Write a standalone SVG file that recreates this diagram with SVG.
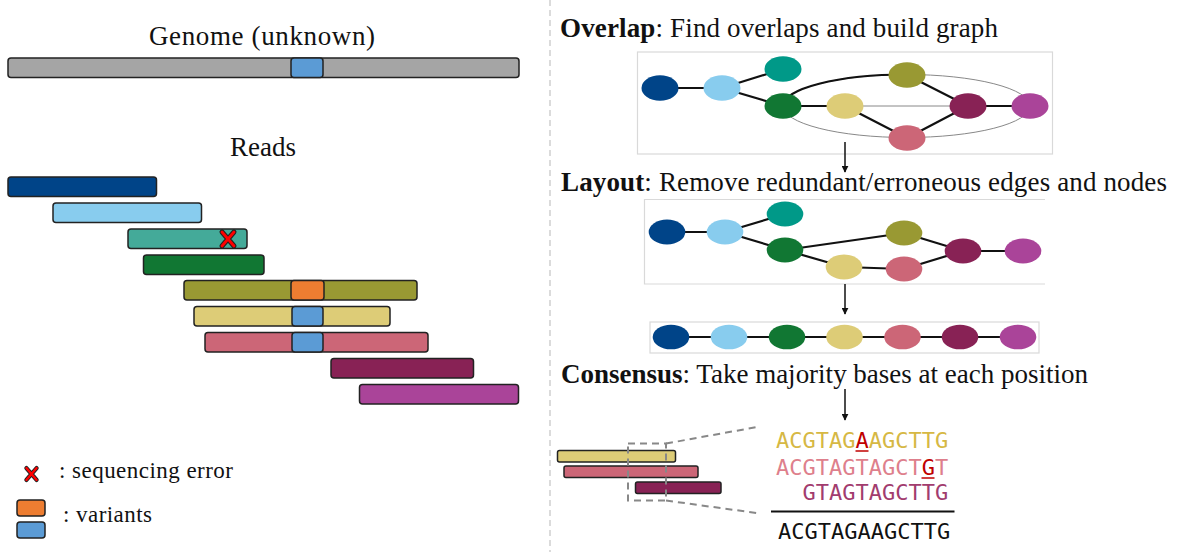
<svg xmlns="http://www.w3.org/2000/svg" width="1179" height="552" viewBox="0 0 1179 552">
<style>
.t{font-family:"Liberation Serif","Times New Roman",serif;fill:#111}
.big{font-size:27px}
.leg{font-size:23px}
.bar{stroke:#222;stroke-width:1.5}
.mono{font-family:"DejaVu Sans Mono","Liberation Mono",monospace;font-size:22px}
.e{stroke:#111;stroke-width:2.2;fill:none}
.thin{stroke:#888;stroke-width:1;fill:none}
.box{fill:none;stroke:#d9d9d9;stroke-width:1.2}
.dash{fill:none;stroke:#888;stroke-width:2;stroke-dasharray:7 5}
.arr{stroke:#111;stroke-width:1.5;fill:none}
</style>
<defs>
<marker id="ah" viewBox="0 0 10 10" refX="9" refY="5" markerWidth="7" markerHeight="7" markerUnits="userSpaceOnUse" orient="auto">
<path d="M0,0 L10,5 L0,10 z" fill="#111"/>
</marker>
<g id="xmark">
<path d="M-6,-7 L6,7 M6,-7 L-6,7" stroke="#222" stroke-width="5" stroke-linecap="round"/>
<path d="M-6,-7 L6,7 M6,-7 L-6,7" stroke="#ff0000" stroke-width="2.8" stroke-linecap="round"/>
</g>
</defs>
<rect width="1179" height="552" fill="#fff"/>

<line x1="550" y1="0" x2="550" y2="552" stroke="#cfcfcf" stroke-width="1.5" stroke-dasharray="6 4"/>

<g id="genome">
<text class="t big" x="262" y="45" text-anchor="middle" textLength="226" lengthAdjust="spacing">Genome (unknown)</text>
<rect class="bar" x="8" y="58" width="511" height="19.5" rx="3" fill="#a5a5a5"/>
<rect class="bar" x="291" y="58" width="32" height="19.5" rx="3" fill="#5b9bd5"/>
</g>

<g id="reads">
<text class="t big" x="263" y="156" text-anchor="middle" textLength="66" lengthAdjust="spacing">Reads</text>
<rect class="bar" x="8" y="177" width="148.5" height="19.5" rx="3" fill="#004488"/>
<rect class="bar" x="53" y="203" width="148.5" height="19.5" rx="3" fill="#88ccee"/>
<rect class="bar" x="128" y="229" width="119" height="19.5" rx="3" fill="#44aa99"/>
<use href="#xmark" x="228" y="239"/>
<rect class="bar" x="143.5" y="255" width="120.5" height="19.5" rx="3" fill="#117733"/>
<rect class="bar" x="184" y="280.5" width="233" height="19.5" rx="3" fill="#999933"/>
<rect class="bar" x="291" y="280.5" width="33" height="19.5" rx="3" fill="#ed7d31"/>
<rect class="bar" x="194" y="306.5" width="196" height="19.5" rx="3" fill="#ddcc77"/>
<rect class="bar" x="292" y="306.5" width="31" height="19.5" rx="3" fill="#5b9bd5"/>
<rect class="bar" x="205" y="332.5" width="223" height="19.5" rx="3" fill="#cc6677"/>
<rect class="bar" x="292" y="332.5" width="31" height="19.5" rx="3" fill="#5b9bd5"/>
<rect class="bar" x="331" y="358.5" width="142.5" height="19.5" rx="3" fill="#882255"/>
<rect class="bar" x="359.5" y="384.5" width="159" height="19.5" rx="3" fill="#aa4499"/>
</g>

<g id="legend">
<use href="#xmark" transform="translate(31.5 474) scale(0.85)"/>
<text class="t leg" x="59" y="478" textLength="174" lengthAdjust="spacing">: sequencing error</text>
<rect class="bar" x="17" y="500" width="28" height="16" rx="3" fill="#ed7d31"/>
<rect class="bar" x="17" y="522" width="28" height="16" rx="3" fill="#5b9bd5"/>
<text class="t leg" x="63" y="522" textLength="89" lengthAdjust="spacing">: variants</text>
</g>

<g id="overlap">
<text class="t big" x="560" y="37" textLength="438" lengthAdjust="spacing"><tspan font-weight="bold">Overlap</tspan>: Find overlaps and build graph</text>
<rect class="box" x="637.5" y="52" width="415" height="102"/>
<g id="overlap-edges">
<ellipse class="thin" cx="906.5" cy="106" rx="123.5" ry="31.5"/>
<line class="thin" x1="845" y1="106" x2="968" y2="106"/>
<path class="e" d="M783,106 A123.5,31.5 0 0 1 906.5,74.5"/>
<path class="e" d="M660,88 L722,88 M722,88 L783,69 M722,88 L783,106 M783,106 L845,106 M845,106 L907,138 M907,75 L968,106 M907,138 L968,106 M968,106 L1030,106"/>
</g>
<g id="overlap-nodes">
<ellipse cx="660" cy="88" rx="18.5" ry="12.7" fill="#004488"/>
<ellipse cx="722" cy="88" rx="18.5" ry="12.7" fill="#88ccee"/>
<ellipse cx="783" cy="69" rx="18.5" ry="12.7" fill="#009988"/>
<ellipse cx="783" cy="106" rx="18.5" ry="12.7" fill="#117733"/>
<ellipse cx="845" cy="106" rx="18.5" ry="12.7" fill="#ddcc77"/>
<ellipse cx="907" cy="75" rx="18.5" ry="12.7" fill="#999933"/>
<ellipse cx="907" cy="138" rx="18.5" ry="12.7" fill="#cc6677"/>
<ellipse cx="968" cy="106" rx="18.5" ry="12.7" fill="#882255"/>
<ellipse cx="1030" cy="106" rx="18.5" ry="12.7" fill="#aa4499"/>
</g>
</g>

<g id="layout">
<text class="t big" x="561" y="191" textLength="606" lengthAdjust="spacing"><tspan font-weight="bold">Layout</tspan>: Remove redundant/erroneous edges and nodes</text>
<path class="box" d="M1045,199.5 L644.5,199.5 L644.5,284 L1045,284"/>
<g id="layout-edges">
<path class="e" d="M667,232 L725,232 M725,232 L785,214 M725,232 L785,250 M785,250 L904,233 M785,250 L844,267 M844,267 L904,269 M904,233 L963,251 M904,269 L963,251 M963,251 L1023,251"/>
</g>
<g id="layout-nodes">
<ellipse cx="667" cy="232" rx="18.3" ry="12.5" fill="#004488"/>
<ellipse cx="725" cy="232" rx="18.3" ry="12.5" fill="#88ccee"/>
<ellipse cx="785" cy="214" rx="18.3" ry="12.5" fill="#009988"/>
<ellipse cx="785" cy="250" rx="18.3" ry="12.5" fill="#117733"/>
<ellipse cx="844" cy="267" rx="18.3" ry="12.5" fill="#ddcc77"/>
<ellipse cx="904" cy="233" rx="18.3" ry="12.5" fill="#999933"/>
<ellipse cx="904" cy="269" rx="18.3" ry="12.5" fill="#cc6677"/>
<ellipse cx="963" cy="251" rx="18.3" ry="12.5" fill="#882255"/>
<ellipse cx="1023" cy="251" rx="18.3" ry="12.5" fill="#aa4499"/>
</g>
</g>

<g id="linear">
<rect class="box" x="650" y="322" width="389" height="31"/>
<line class="e" x1="671" y1="337" x2="1018" y2="337"/>
<ellipse cx="671" cy="337" rx="18.3" ry="12.3" fill="#004488"/>
<ellipse cx="729" cy="337" rx="18.3" ry="12.3" fill="#88ccee"/>
<ellipse cx="787" cy="337" rx="18.3" ry="12.3" fill="#117733"/>
<ellipse cx="844.5" cy="337" rx="18.3" ry="12.3" fill="#ddcc77"/>
<ellipse cx="902.5" cy="337" rx="18.3" ry="12.3" fill="#cc6677"/>
<ellipse cx="960" cy="337" rx="18.3" ry="12.3" fill="#882255"/>
<ellipse cx="1018" cy="337" rx="18.3" ry="12.3" fill="#aa4499"/>
</g>

<g id="connectors">
<line class="arr" x1="845" y1="142" x2="845" y2="172" marker-end="url(#ah)"/>
<line class="arr" x1="845" y1="284" x2="845" y2="314" marker-end="url(#ah)"/>
<line class="arr" x1="845" y1="389" x2="845" y2="420" marker-end="url(#ah)"/>
</g>

<g id="consensus">
<text class="t big" x="561" y="383" textLength="527" lengthAdjust="spacing"><tspan font-weight="bold">Consensus</tspan>: Take majority bases at each position</text>
<rect class="bar" x="557.5" y="450.5" width="118" height="11.5" rx="2" fill="#ddcc77"/>
<rect class="bar" x="564" y="466" width="134" height="11.5" rx="2" fill="#cc6677"/>
<rect class="bar" x="635.5" y="482" width="85.5" height="11.5" rx="2" fill="#882255"/>
<rect class="dash" x="628" y="443.5" width="38" height="57"/>
<line class="dash" x1="666" y1="443.5" x2="760" y2="426.5"/>
<line class="dash" x1="666" y1="500.5" x2="760" y2="513.5"/>
<text class="mono" x="776" y="448" fill="#d6b844">ACGTAG<tspan fill="#c00000">A</tspan>AGCTTG</text>
<text class="mono" x="776" y="475" fill="#de7f8c">ACGTAGTAGCT<tspan fill="#c00000">G</tspan>T</text>
<text class="mono" x="802.5" y="500" fill="#a23c6e">GTAGTAGCTTG</text>
<line x1="855.5" y1="451" x2="868.5" y2="451" stroke="#c00000" stroke-width="1.5"/>
<line x1="921.5" y1="478" x2="934.5" y2="478" stroke="#c00000" stroke-width="1.5"/>
<line x1="771" y1="511.5" x2="954.5" y2="511.5" stroke="#111" stroke-width="2"/>
<text class="mono" x="778" y="539" fill="#111">ACGTAGAAGCTTG</text>
</g>
</svg>
